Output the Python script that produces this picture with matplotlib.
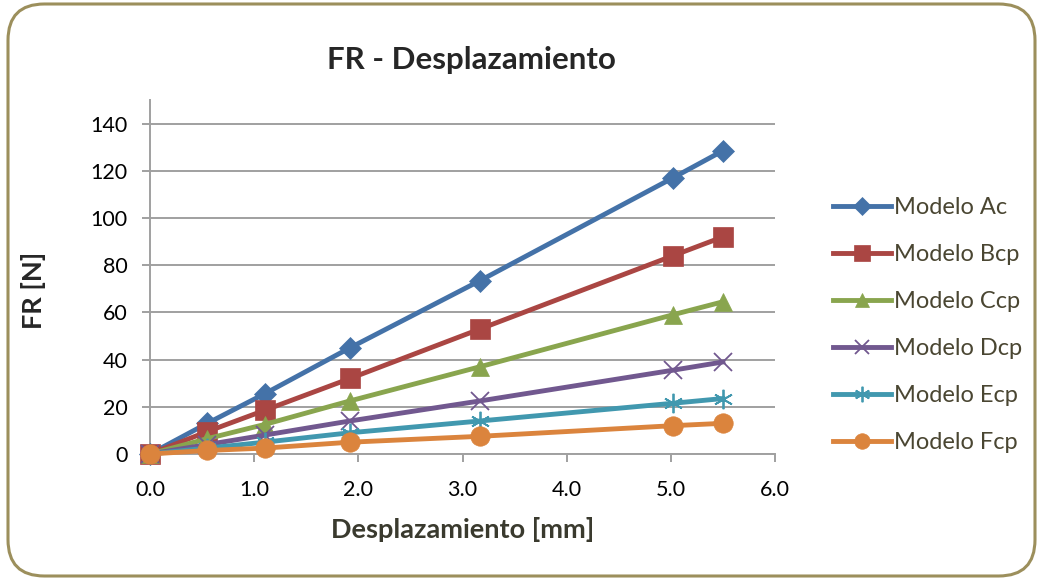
import matplotlib
matplotlib.use("Agg")
import matplotlib.pyplot as plt
from matplotlib.patches import FancyBboxPatch

x = [0.0, 0.55, 1.1, 1.92, 3.17, 5.02, 5.5]
series_names = ["Modelo Ac", "Modelo Bcp", "Modelo Ccp", "Modelo Dcp", "Modelo Ecp", "Modelo Fcp"]
modelo_ac = [0, 13, 25.5, 45, 73.5, 117, 128.5]
modelo_bcp = [0, 9.5, 18.5, 32, 53, 84, 92]
modelo_ccp = [0, 6.5, 12.5, 22.5, 37, 59, 64.5]
modelo_dcp = [0, 4, 8, 14, 22.5, 35.5, 39]
modelo_ecp = [0, 2.5, 5, 9, 14, 21.5, 23.5]
modelo_fcp = [0, 1.5, 2.5, 5, 7.5, 12, 13]
x_ticks = [0, 1, 2, 3, 4, 5, 6]
y_ticks = [0, 20, 40, 60, 80, 100, 120, 140]

plt.rcParams['font.family'] = ['Lato', 'DejaVu Sans']

fig = plt.figure(figsize=(10.38, 5.81), dpi=100)
fig.patch.set_facecolor('white')
border = FancyBboxPatch((8/1038, 5/581), 1027/1038, 572/581,
                        boxstyle="round,pad=0,rounding_size=0.035",
                        transform=fig.transFigure, facecolor='none',
                        edgecolor='#9C8F5C', linewidth=2.2, mutation_aspect=1038/581)
fig.patches.append(border)

ax = fig.add_axes([150/1038, 1 - 454/581, (775-150)/1038, (454-100)/581])
ax.set_facecolor('none')

colors = ['#4472A8', '#AA4643', '#89A54E', '#71588F', '#4198AF', '#DB843D']
markers = ['D', 's', '^', 'x', (6, 2, 0), 'o']
msizes = [11, 14, 13, 13, 14, 14]
data = [modelo_ac, modelo_bcp, modelo_ccp, modelo_dcp, modelo_ecp, modelo_fcp]

for name, ys, c, m, ms in zip(series_names, data, colors, markers, msizes):
    ax.plot(x, ys, color=c, lw=3.5, marker=m, markersize=ms,
            markeredgewidth=1.3 if m in ('x', (6, 2, 0)) else 0.5,
            markeredgecolor=c, markerfacecolor=c, label=name, zorder=3,
            clip_on=False)

ax.set_xlim(0, 6)
ax.set_ylim(0, 150)
ax.set_xticks(x_ticks)
ax.set_xticklabels([f"{t:.1f}" for t in x_ticks])
ax.set_yticks(y_ticks)
ax.yaxis.grid(True, color='#A0A0A0', lw=1.4)
ax.set_axisbelow(True)
for s in ['top', 'right']:
    ax.spines[s].set_visible(False)
ax.spines['left'].set_color('#A0A0A0')
ax.spines['left'].set_linewidth(1.4)
ax.spines['bottom'].set_color('#A0A0A0')
ax.spines['bottom'].set_linewidth(1.4)
ax.tick_params(axis='both', colors='#A0A0A0', labelcolor='black', labelsize=15.5,
               length=6, width=1.4, direction='out')
ax.tick_params(axis='x', pad=13)
ax.tick_params(axis='y', pad=10)

fig.text(471/1038, 1 - 60/581, "FR - Desplazamiento", ha='center', va='center',
         fontsize=22.5, fontweight='bold', color='#262626')
fig.text(463/1038, 1 - 530/581, "Desplazamiento [mm]", ha='center', va='center',
         fontsize=19.5, fontweight='bold', color='#3A3A2E')
fig.text(33/1038, 1 - 290/581, "FR [N]", ha='center', va='center', rotation=90,
         fontsize=19.5, fontweight='bold', color='#262626')

leg = ax.legend(loc='upper left', bbox_to_anchor=(824/1038, 1 - 188/581),
                bbox_transform=fig.transFigure, frameon=False, fontsize=17,
                handlelength=2.45, handletextpad=0.12, labelspacing=1.1,
                borderaxespad=0, labelcolor='#4A4632', markerscale=0.8)

fig.savefig("out.png", dpi=100, facecolor='white')
